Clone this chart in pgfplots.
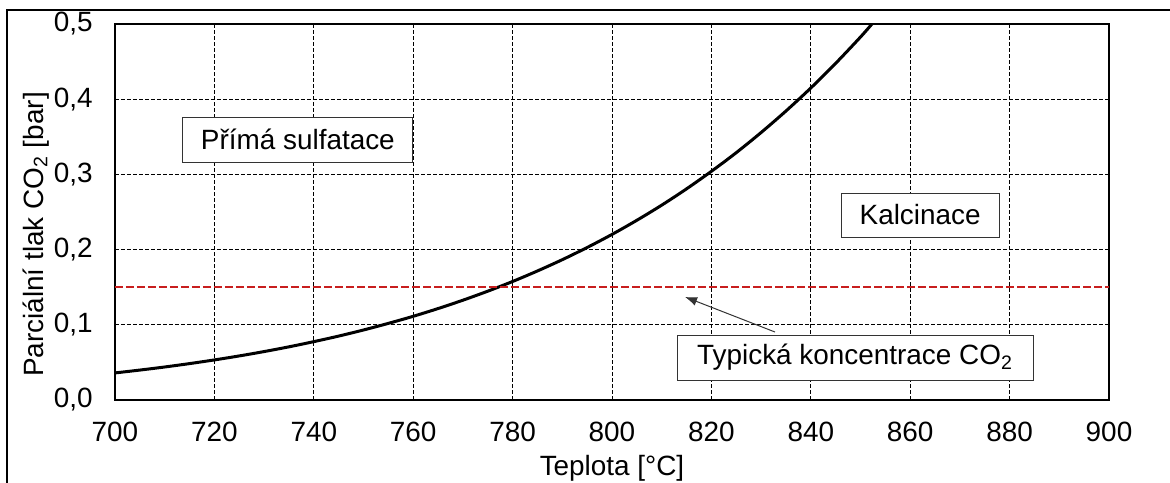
\documentclass[border=0pt]{standalone}
\usepackage{fontspec}
\setmainfont{Liberation Sans}
\usepackage{pgfplots}
\pgfplotsset{compat=1.18}
\usetikzlibrary{arrows.meta}
\definecolor{redline}{RGB}{200,30,30}
\begin{document}
\begin{tikzpicture}
\useasboundingbox (-57.5bp,-41.5bp) rectangle (527.5bp,200bp);
\draw[line width=1bp] (-54bp,-50bp) -- (-54bp,195bp) -- (540bp,195bp);
\begin{axis}[
  at={(0,0)}, anchor=south west,
  scale only axis, width=497bp, height=188bp,
  xmin=700, xmax=900, ymin=0, ymax=0.5,
  xtick distance=20, ytick distance=0.1,
  grid=major,
  major grid style={black, line width=0.5bp, dash pattern=on 2bp off 1bp},
  axis line style={line width=0.6bp, black},
  major tick length=0,
  /pgf/number format/assume math mode=true,
  /pgf/number format/use comma,
  yticklabel style={/pgf/number format/fixed, /pgf/number format/precision=1, /pgf/number format/fixed zerofill, inner sep=0pt, anchor=east, xshift=-11bp},
  xticklabel style={/pgf/number format/1000 sep={}, inner sep=0pt, anchor=north, yshift=-11bp},
  tick label style={font=\fontsize{14}{16}\selectfont},
  label style={font=\fontsize{14}{16}\selectfont},
  xlabel={Teplota [°C]},
  ylabel={Parciální tlak CO\textsubscript{2} [bar]},
  xlabel style={at={(axis description cs:0.5,-0.1995)}, anchor=base, inner sep=0pt},
  ylabel style={at={(axis description cs:-0.0724,0.44)}, anchor=base, inner sep=0pt},
  clip=true,
]
\addplot[black, line width=1.5bp, smooth] coordinates {
(700,0.0360)(705,0.0398)(710,0.0439)(715,0.0484)(720,0.0533)(725,0.0586)
(730,0.0644)(735,0.0707)(740,0.0776)(745,0.0850)(750,0.0931)(755,0.1019)
(760,0.1113)(765,0.1216)(770,0.1327)(775,0.1447)(780,0.1576)(785,0.1716)
(790,0.1866)(795,0.2028)(800,0.2202)(805,0.2390)(810,0.2591)(815,0.2808)
(820,0.3041)(825,0.3289)(830,0.3557)(835,0.3843)(840,0.4149)(845,0.4477)
(850,0.4827)(852.3,0.5000)
};
\addplot[redline, line width=1bp, dash pattern=on 4bp off 1.5bp] coordinates {(700,0.15)(900,0.15)};
\node[draw=black!80, line width=0.5bp, fill=white, minimum width=115bp, minimum height=22.5bp, inner sep=0pt, font=\fontsize{14}{16}\selectfont] at (axis cs:736.8,0.3464) {Přímá sulfatace};
\node[draw=black!80, line width=0.5bp, fill=white, minimum width=79bp, minimum height=22bp, inner sep=0pt, font=\fontsize{14}{16}\selectfont] at (axis cs:862,0.246) {Kalcinace};
\node[draw=black!80, line width=0.5bp, fill=white, minimum width=178bp, minimum height=22.5bp, inner sep=0pt, font=\fontsize{14}{16}\selectfont] at (axis cs:848.9,0.0565) {Typická koncentrace CO\textsubscript{2}};
\draw[black!80, line width=0.5bp, -{Latex[length=6bp,width=4.5bp]}] (axis cs:832.8,0.0904) -- (axis cs:814.7,0.137);
\end{axis}
\end{tikzpicture}
\end{document}
